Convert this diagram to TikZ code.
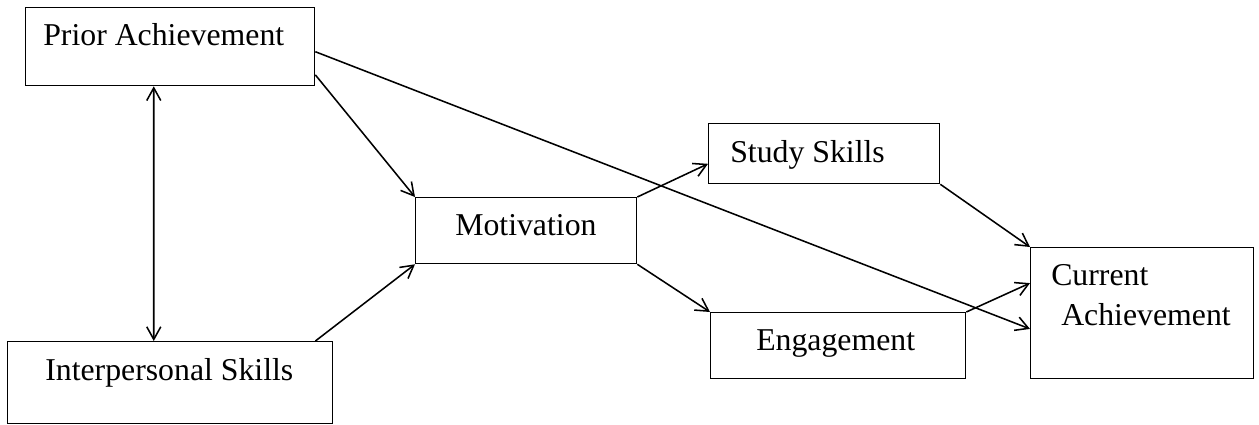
\documentclass[tikz,border=0pt]{standalone}
\usepackage{fontspec}
\setmainfont{Liberation Serif}
\usepackage{tikz}
\usetikzlibrary{arrows.meta}

\begin{document}
\begin{tikzpicture}[x=0.025cm,y=-0.025cm,
    box/.style={draw,line width=0.9pt,inner sep=0pt,anchor=north west},
    lbl/.style={anchor=base west,inner sep=0pt,font=\fontsize{22.6}{27}\selectfont},
    >={Straight Barb[length=9pt,width=10pt]},
    every edge/.style={draw,line width=1.1pt}]
    \useasboundingbox (0,0) rectangle (1259,424);

	\node[box,minimum width=7.225cm,minimum height=1.95cm] (prior) at (25,7) {};
	\node[box,minimum width=8.125cm,minimum height=2.05cm] (inter) at (7,341) {};
	\node[box,minimum width=5.525cm,minimum height=1.65cm] (motiv) at (415,197) {};
	\node[box,minimum width=5.775cm,minimum height=1.5cm] (study) at (708,123) {};
	\node[box,minimum width=6.375cm,minimum height=1.65cm] (engage) at (710,312) {};
	\node[box,minimum width=5.575cm,minimum height=3.275cm] (current) at (1030,247) {};

	\node[lbl] (priortxt) at ([shift={(18,38)}]prior.north west) {Prior Achievement};
	\node[lbl] (intertxt) at ([shift={(38,39)}]inter.north west) {Interpersonal Skills};
	\node[lbl] (motivtxt) at ([shift={(40,38)}]motiv.north west) {Motivation};
	\node[lbl] (studytxt) at ([shift={(22,39)}]study.north west) {Study Skills};
	\node[lbl] (engagetxt) at ([shift={(46,38)}]engage.north west) {Engagement};
	\node[lbl] (currtxta) at ([shift={(21,38)}]current.north west) {Current};
	\node[lbl] (currtxtb) at ([shift={(31,78)}]current.north west) {Achievement};

    \path[<->]
    	([xshift=-0.41cm]prior.south) edge ([xshift=-0.41cm]inter.north);

    \path[->]
    	(prior.-11) edge (motiv.north west)
    	(prior.-2) edge (current.188)

    	(inter.16) edge (motiv.south west)

    	(motiv.north east) edge (study.185)
    	(motiv.south east) edge (engage.north west)

    	(study.south east) edge (current.north west)
    	(engage.north east) edge (current.165);

\end{tikzpicture}
\end{document}
